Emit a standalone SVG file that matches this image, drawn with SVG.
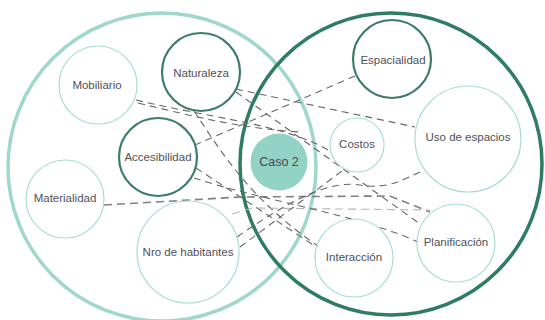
<svg xmlns="http://www.w3.org/2000/svg" width="545" height="320" viewBox="0 0 545 320">
<style>
.bg{fill:#ffffff}
.big-l{fill:none;stroke:#9fd8cb;stroke-width:3.5}
.big-r{fill:none;stroke:#2f7d60;stroke-width:3.5}
.light{fill:#ffffff;stroke:#a9ddd1;stroke-width:1.2}
.dark{fill:#ffffff;stroke:#3d7d65;stroke-width:2.2}
.caso{fill:#92d3c6;stroke:none}
.lbl{font-family:"Liberation Sans",Arial,sans-serif;font-size:11.5px;fill:#505058;text-anchor:middle;dominant-baseline:middle}
.lbl2{font-family:"Liberation Sans",Arial,sans-serif;font-size:12.5px;fill:#4a4a4a;text-anchor:middle;dominant-baseline:middle}
.con{fill:none;stroke:#666666;stroke-width:1.1;stroke-dasharray:7 5}
.con-thick{fill:none;stroke:#808080;stroke-width:1.6;stroke-dasharray:8 5}
.con-light{fill:none;stroke:#b5b5b5;stroke-width:1.1;stroke-dasharray:8 5}
</style>
<rect class="bg" x="0" y="0" width="545" height="320"/>
<g id="group-left"><circle class="big-l" cx="162" cy="167" r="154"/></g>
<g id="group-right"><circle class="big-r" cx="391" cy="164" r="151"/></g>
<g id="connectors">
<path class="con" d="M136,100 C210,118 290,125 331,152"/>
<path class="con" d="M138,103 C200,118 240,128 300,132"/>
<path class="con" d="M236,89 L415,127"/>
<path class="con" d="M355,76 L195,145"/>
<path class="con" d="M236,92 L420,224"/>
<path class="con" d="M194,111 C220,150 250,200 318,246"/>
<path class="con" d="M196,168 L318,248"/>
<path class="con-thick" d="M104,205 L240,197 L390,196 L430,212"/>
<path class="con-light" d="M232,214 L252,208 L430,210"/>
<path class="con" d="M237,237 C290,200 330,180 360,185 S405,178 425,170"/>
<path class="con" d="M240,247 L342,171"/>
<path class="con" d="M194,178 C260,200 360,215 418,242"/>
</g>
<g id="node-caso2"><circle class="caso" cx="279" cy="162" r="28.5"/><text class="lbl2" x="279" y="163">Caso 2</text></g>
<g id="node-mobiliario"><circle class="light" cx="98" cy="85" r="39"/><text class="lbl" x="97" y="86">Mobiliario</text></g>
<g id="node-naturaleza"><circle class="dark" cx="201" cy="72" r="39"/><text class="lbl" x="201" y="74">Naturaleza</text></g>
<g id="node-accesibilidad"><circle class="dark" cx="158" cy="157" r="39"/><text class="lbl" x="158" y="158">Accesibilidad</text></g>
<g id="node-materialidad"><circle class="light" cx="65" cy="199" r="39"/><text class="lbl" x="65" y="199">Materialidad</text></g>
<g id="node-habitantes"><circle class="light" cx="188" cy="252" r="51"/><text class="lbl" x="188" y="253">Nro de habitantes</text></g>
<g id="node-espacialidad"><circle class="dark" cx="392" cy="59" r="39"/><text class="lbl" x="393" y="61">Espacialidad</text></g>
<g id="node-costos"><circle class="light" cx="357" cy="145" r="27"/><text class="lbl" x="357" y="145">Costos</text></g>
<g id="node-uso"><circle class="light" cx="468" cy="139" r="53"/><text class="lbl" x="468" y="138">Uso de espacios</text></g>
<g id="node-interaccion"><circle class="light" cx="354" cy="258" r="39"/><text class="lbl" x="354" y="258">Interacción</text></g>
<g id="node-planificacion"><circle class="light" cx="456" cy="243" r="39"/><text class="lbl" x="456" y="243">Planificación</text></g>
</svg>
